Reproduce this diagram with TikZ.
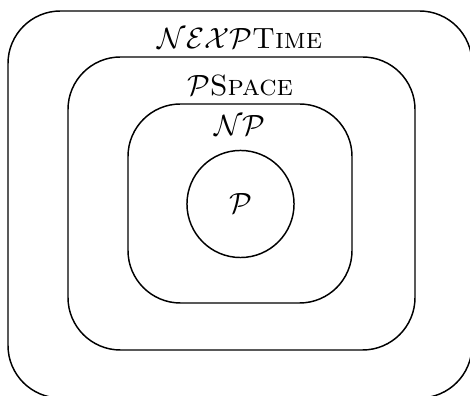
\documentclass[tikz,border=0pt]{standalone}
\usepackage{tikz}
\usetikzlibrary{positioning}

\begin{document}
\begin{tikzpicture}[x=0.41pt, y=-0.41pt, line width=0.6pt, every node/.style={inner sep=1pt, font=\large}, cls/.style={rounded corners=21.5pt}]
\useasboundingbox (0,0) rectangle (470,396);
\draw[cls] (8,11) rectangle (472,398);
\draw[cls] (68,57) rectangle (415,350);
\draw[cls] (128,104) rectangle (352,303);
\node (nexp) at (240,39) {$\mathcal{NEXP}$\textsc{Time}};
\node (pspace) at (240,86) {$\mathcal{P}$\textsc{Space}};
\node (np) at (240,126) {$\mathcal{NP}$};
\node[draw, circle, minimum size=43.9pt] (p) at (240.5,204) {$\mathcal{P}$};
\end{tikzpicture}
\end{document}
